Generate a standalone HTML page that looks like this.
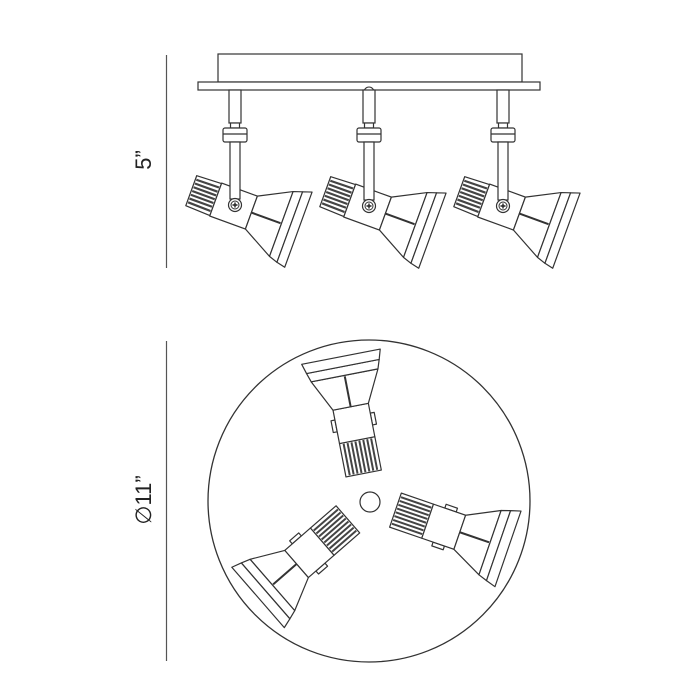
<!DOCTYPE html>
<html><head><meta charset="utf-8"><style>
html,body{margin:0;padding:0;background:#fff;width:700px;height:700px;overflow:hidden}
svg{display:block}
</style></head><body>
<svg width="700" height="700" viewBox="0 0 700 700" xmlns="http://www.w3.org/2000/svg">
<defs>
<g id="lampT" fill="#fff" stroke="#333" stroke-width="1.2" stroke-linejoin="round">
  <polygon points="-46,-16 -20,-17 -20,17 -46,16"/>
  <g stroke="#444" stroke-width="2.2">
    <line x1="-45" y1="-12" x2="-21" y2="-12.5"/><line x1="-45" y1="-8" x2="-21" y2="-8"/>
    <line x1="-45" y1="-4" x2="-21" y2="-4"/><line x1="-45" y1="0" x2="-21" y2="0"/>
    <line x1="-45" y1="4" x2="-21" y2="4"/><line x1="-45" y1="8" x2="-21" y2="8"/>
    <line x1="-45" y1="12" x2="-21" y2="12.5"/>
  </g>
  <rect x="-20" y="-17.5" width="38" height="35"/>
  <polygon points="18,-17.5 50,-34 50,35 18,17.5"/>
  <line x1="18" y1="0" x2="49" y2="0" stroke-width="2"/>
  <polygon points="50,-34 59,-37 59,38 50,35"/>
  <polygon points="59,-37 68,-40 68,40 59,38"/>
</g>
<g id="lampB" fill="#fff" stroke="#333" stroke-width="1.2" stroke-linejoin="round">
  <rect x="-52" y="-18" width="34" height="36"/>
  <g stroke="#444" stroke-width="2">
    <line x1="-51" y1="-14" x2="-19" y2="-14"/><line x1="-51" y1="-10" x2="-19" y2="-10"/>
    <line x1="-51" y1="-6" x2="-19" y2="-6"/><line x1="-51" y1="-2" x2="-19" y2="-2"/>
    <line x1="-51" y1="2" x2="-19" y2="2"/><line x1="-51" y1="6" x2="-19" y2="6"/>
    <line x1="-51" y1="10" x2="-19" y2="10"/><line x1="-51" y1="14" x2="-19" y2="14"/>
  </g>
  <rect x="-6" y="-22" width="12" height="4"/>
  <rect x="-6" y="18" width="12" height="4"/>
  <rect x="-18" y="-18" width="34" height="36"/>
  <polygon points="16,-18 48,-34 48,34 16,18"/>
  <line x1="16" y1="0" x2="47" y2="0" stroke-width="2"/>
  <polygon points="48,-34 57,-37 57,37 48,34"/>
  <polygon points="57,-37 67,-40 67,40 57,37"/>
</g>
<g id="screw">
  <circle r="6.5" fill="#fff" stroke="#333" stroke-width="1.2"/>
  <circle r="4" fill="#fff" stroke="#333" stroke-width="1"/>
  <path d="M-2.5,0H2.5M0,-2.5V2.5" stroke="#222" stroke-width="1.4"/>
</g>
<g id="stem" fill="#fff" stroke="#333" stroke-width="1.2">
  <rect x="-6" y="90" width="12" height="33"/>
  <rect x="-4.5" y="123" width="9" height="5"/>
  <rect x="-12" y="128" width="24" height="14" rx="2"/>
  <line x1="-12" y1="134" x2="12" y2="134"/>
</g>
</defs>

<line x1="166.5" y1="55" x2="166.5" y2="268" stroke="#555" stroke-width="1.2"/>
<line x1="166.5" y1="341" x2="166.5" y2="661" stroke="#555" stroke-width="1.2"/>
<text x="0" y="0" transform="translate(151,160) rotate(-90)" text-anchor="middle" font-family="Liberation Sans, sans-serif" font-size="22" fill="#222">5”</text>
<text x="0" y="0" transform="translate(151,500) rotate(-90)" text-anchor="middle" font-family="Liberation Sans, DejaVu Sans, sans-serif" font-size="22" fill="#222">∅11”</text>

<rect x="218" y="54" width="304" height="28" fill="#fff" stroke="#333" stroke-width="1.2"/>
<rect x="198" y="82" width="342" height="8" fill="#fff" stroke="#333" stroke-width="1.2"/>
<circle cx="369" cy="92" r="5" fill="#fff" stroke="#333" stroke-width="1.1"/>

<g transform="translate(235,0)"><use href="#stem"/></g>
<g transform="translate(369,0)"><use href="#stem"/></g>
<g transform="translate(503,0)"><use href="#stem"/></g>

<g transform="translate(235,205) rotate(20) translate(0,1.5)"><use href="#lampT"/></g>
<g transform="translate(369,206) rotate(20) translate(0,1.5)"><use href="#lampT"/></g>
<g transform="translate(503,206) rotate(20) translate(0,1.5)"><use href="#lampT"/></g>
<g transform="translate(235,205)"><rect x="-5" y="-63" width="10" height="57" fill="#fff" stroke="#333" stroke-width="1.2"/><use href="#screw"/></g>
<g transform="translate(369,206)"><rect x="-5" y="-64" width="10" height="58" fill="#fff" stroke="#333" stroke-width="1.2"/><use href="#screw"/></g>
<g transform="translate(503,206)"><rect x="-5" y="-64" width="10" height="58" fill="#fff" stroke="#333" stroke-width="1.2"/><use href="#screw"/></g>

<circle cx="369" cy="501" r="161" fill="#fff" stroke="#333" stroke-width="1.3"/>
<circle cx="370" cy="502" r="10" fill="#fff" stroke="#333" stroke-width="1.2"/>
<g transform="translate(369,501) rotate(-101) translate(80,0)"><use href="#lampB"/></g>
<g transform="translate(369,501) rotate(19) translate(80,0)"><use href="#lampB"/></g>
<g transform="translate(369,501) rotate(139) translate(80,0)"><use href="#lampB"/></g>
</svg>
</body></html>
